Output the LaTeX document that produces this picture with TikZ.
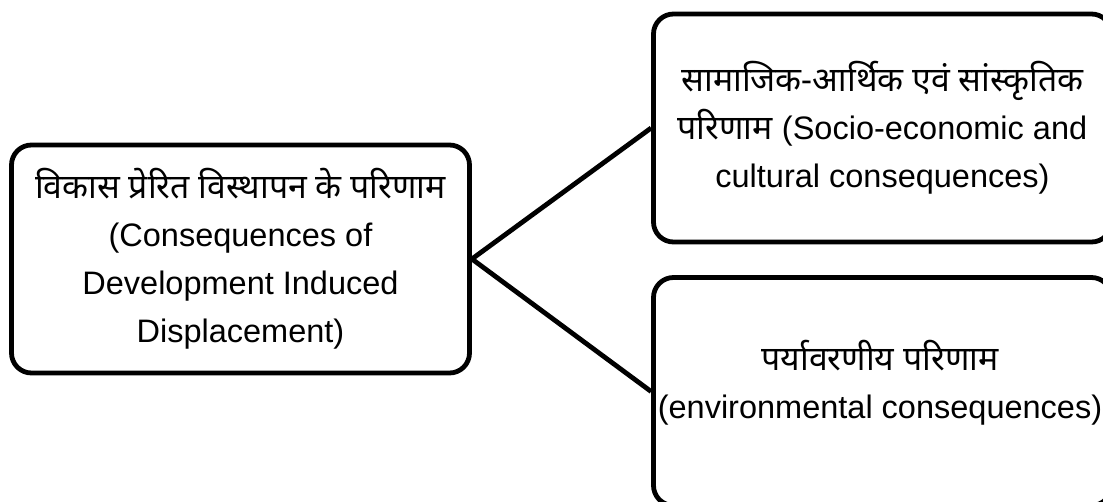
\documentclass[tikz,border=0pt]{standalone}
\usepackage{fontspec}
\setmainfont{Liberation Sans}
\newfontfamily\deva[Script=Devanagari,Scale=1.04]{Noto Sans}
\begin{document}
\begin{tikzpicture}[x=1pt,y=-1pt,
  box/.style={draw, line width=4.8pt, rounded corners=20pt,
    minimum width=458pt, minimum height=228pt, align=center,
    inner sep=0pt, font=\fontsize{32.5}{48}\selectfont},
  txt/.style={align=center, inner sep=0pt, font=\fontsize{32.5}{48}\selectfont},
  link/.style={line width=4.8pt}]
\path[use as bounding box] (0,0) rectangle (1103,501);
\clip (0,0) rectangle (1103,501);
\node[box] (root) at (240.5,259)
  {{\deva विकास प्रेरित विस्थापन के परिणाम}\\(Consequences of\\Development Induced\\Displacement)};
\node[box] (soc) at (882.5,128)
  {{\deva सामाजिक-आर्थिक एवं सांस्कृतिक}\\{\deva परिणाम} (Socio-economic and\\cultural consequences)};
\node[box] (env) at (882.5,391.5) {};
\node[txt] (envtext) at (880,383)
  {{\deva पर्यावरणीय परिणाम}\\(environmental consequences)};
\draw[link] (root.east) -- (soc.west);
\draw[link] (root.east) -- (env.west);
\end{tikzpicture}
\end{document}
